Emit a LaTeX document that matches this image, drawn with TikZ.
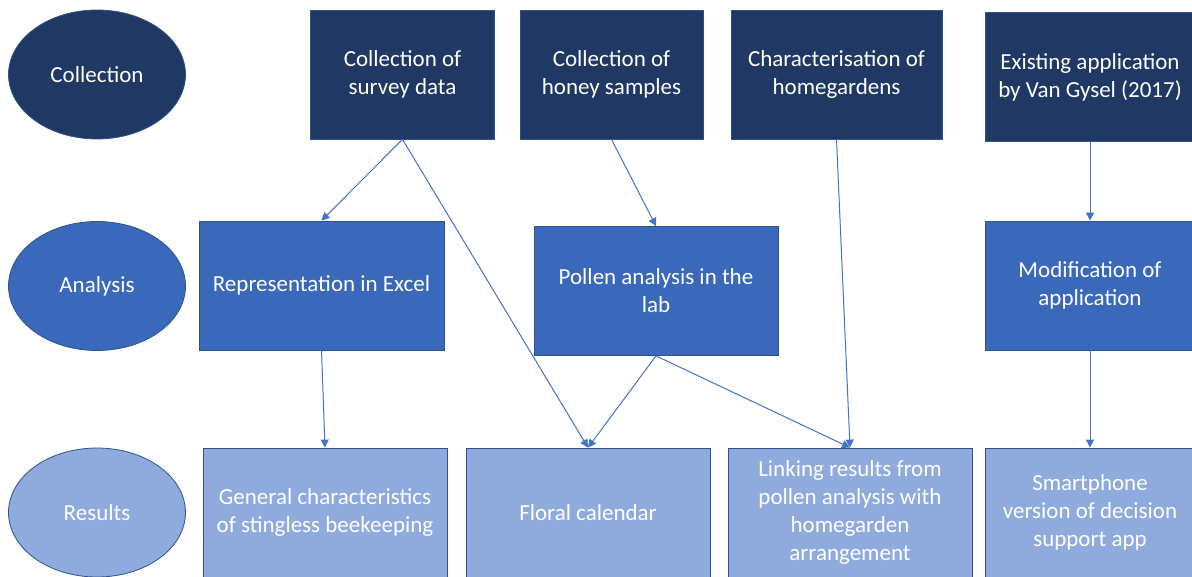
\documentclass[tikz,border=0pt]{standalone}
\usepackage{fontspec}
\setmainfont{Carlito}
\usetikzlibrary{arrows.meta,shapes.geometric}
\definecolor{darknavy}{HTML}{203864}
\definecolor{midblue}{HTML}{3A68BA}
\definecolor{lightblue}{HTML}{8FAADC}
\definecolor{edgeblue}{HTML}{2F528F}
\definecolor{arrowblue}{HTML}{4472C4}
\tikzset{
  txt/.style={text=white, align=center, font=\fontsize{11.5}{14}\selectfont, inner sep=0pt},
  stage/.style={txt, ellipse, draw=edgeblue, line width=0.4pt, minimum width=88.5pt, minimum height=64.5pt},
  box/.style={txt, rectangle, draw=edgeblue, line width=0.4pt, minimum height=64.5pt},
  link/.style={-{Triangle[length=4pt,width=4pt]}, draw=arrowblue, line width=0.5pt}
}

\begin{document}
\begin{tikzpicture}[x=0.5pt,y=-0.5pt]
  \useasboundingbox (0,0) rectangle (1192,577);
  \clip (0,0) rectangle (1192,577);
  % stages
  \node[stage, fill=darknavy] (collection) at (97,74.5) {Collection};
  \node[stage, fill=midblue] (analysis) at (97,286) {Analysis};
  \node[stage, fill=lightblue] (results) at (97,512.5) {Results};
  % collection row
  \node[box, fill=darknavy, minimum width=92pt] (survey) at (402.5,74.5) {Collection of\\survey data};
  \node[box, fill=darknavy, minimum width=91.5pt] (honey) at (611.5,74.5) {Collection of\\honey samples};
  \node[box, fill=darknavy, minimum width=105.5pt] (gardens) at (836.5,74.5) {Characterisation of\\homegardens};
  \node[box, fill=darknavy, minimum width=105pt] (existing) at (1090,77) {Existing application\\by Van Gysel (2017)};
  % analysis row
  \node[box, fill=midblue, minimum width=122.5pt] (excel) at (321.5,285.5) {Representation in Excel};
  \node[box, fill=midblue, minimum width=122pt] (pollen) at (656,291) {Pollen analysis in the\\lab};
  \node[box, fill=midblue, minimum width=105pt] (modify) at (1090,285.5) {Modification of\\application};
  % results row
  \node[box, fill=lightblue, minimum width=122pt] (general) at (325,512.5) {General characteristics\\of stingless beekeeping};
  \node[box, fill=lightblue, minimum width=122pt] (floral) at (588,512.5) {Floral calendar};
  \node[box, fill=lightblue, minimum width=122pt] (linking) at (850,512.5) {Linking results from\\pollen analysis with\\homegarden\\arrangement};
  \node[box, fill=lightblue, minimum width=105pt] (phone) at (1090,512.5) {Smartphone\\version of decision\\support app};
  % arrows
  \draw[link] (survey.south) -- (excel.north);
  \draw[link] (survey.south) -- (floral.north);
  \draw[link] (honey.south) -- (pollen.north);
  \draw[link] (gardens.south) -- (linking.north);
  \draw[link] (existing.south) -- (modify.north);
  \draw[link] (excel.south) -- (general.north);
  \draw[link] (pollen.south) -- (floral.north);
  \draw[link] (pollen.south) -- (linking.north);
  \draw[link] (modify.south) -- (phone.north);
\end{tikzpicture}
\end{document}
